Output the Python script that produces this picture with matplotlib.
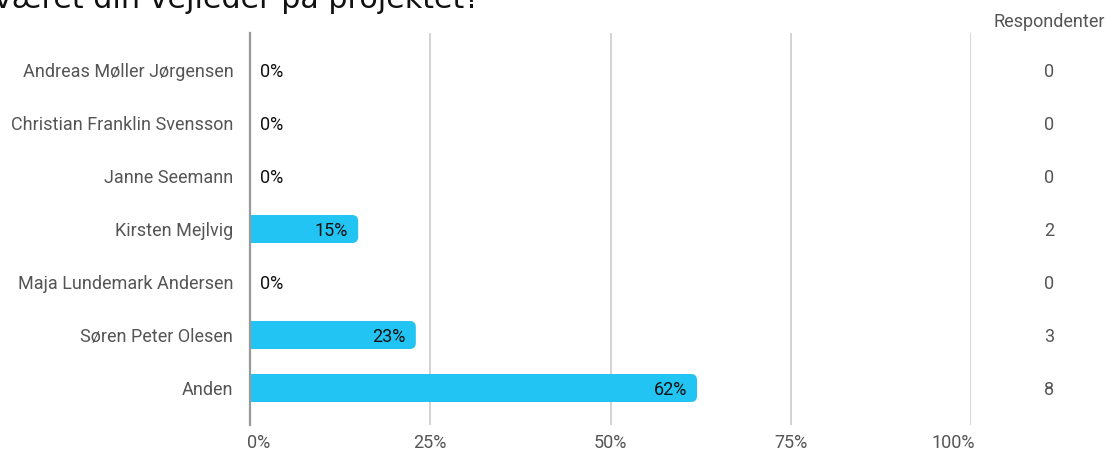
import matplotlib
matplotlib.use("Agg")
import matplotlib.pyplot as plt
import matplotlib.transforms as mtransforms
from matplotlib.patches import FancyBboxPatch, Rectangle

title = "været din vejleder på projektet?"
categories = ["Andreas Møller Jørgensen", "Christian Franklin Svensson", "Janne Seemann",
              "Kirsten Mejlvig", "Maja Lundemark Andersen", "Søren Peter Olesen", "Anden"]
counts = [0, 0, 0, 2, 0, 3, 8]
percents = [0, 0, 0, 15, 0, 23, 62]
xticks = [0, 25, 50, 75, 100]
xticklabels = ["0%", "25%", "50%", "75%", "100%"]
count_header = "Respondenter"

W, H = 1107, 450
fig = plt.figure(figsize=(W / 100, H / 100), dpi=100)
ax = fig.add_axes([250 / W, 1 - 425 / H, (971 - 250) / W, (425 - 33) / H])

bar_color = "#22C4F3"
FS = 13
ax.set_xlim(0, 100)
n = len(categories)
ax.set_ylim(n - 1 + 0.698, -0.698)

px_per_x = (971 - 250) / 100
px_per_y = 53
aspect = px_per_x / px_per_y
bar_h = 28 / px_per_y
r = 6 / px_per_x

for i, (p, c) in enumerate(zip(percents, counts)):
    if p > 0:
        patch = FancyBboxPatch((0, i - bar_h / 2), p, bar_h,
                               boxstyle=f"round,pad=0,rounding_size={r}",
                               mutation_aspect=aspect,
                               facecolor=bar_color, edgecolor="none", zorder=3)
        ax.add_patch(patch)
        ax.add_patch(Rectangle((0, i - bar_h / 2), min(p, 2 * r), bar_h,
                               facecolor=bar_color, edgecolor="none", zorder=3))
        ax.text(p - 10 / px_per_x, i, f"{p}%", ha="right", va="center_baseline",
                fontsize=FS, family="Roboto", color="#111111", zorder=4)
    else:
        ax.text(10 / px_per_x, i, f"{p}%", ha="left", va="center_baseline",
                fontsize=FS, family="Roboto", color="#111111", zorder=4)

ax.set_yticks(range(n))
ax.set_yticklabels(categories, family="Roboto", fontsize=FS, color="#555555")
ax.tick_params(axis="y", length=0, pad=12)
ax.set_xticks(xticks)
ax.set_xticklabels([])
ax.tick_params(axis="x", length=0)

base = mtransforms.blended_transform_factory(ax.transData, fig.transFigure)
for k, (xv, lab) in enumerate(zip(xticks, xticklabels)):
    if k == 0:
        ha, dx = "left", -3
    elif k == len(xticks) - 1:
        ha, dx = "right", 4
    else:
        ha, dx = "center", 0
    tr = mtransforms.offset_copy(base, fig=fig, x=dx, y=0, units="dots")
    fig.text(xv, 1 - 443 / H, lab, transform=tr, ha=ha, va="center",
             family="Roboto", fontsize=FS, color="#555555")

ax.grid(axis="x", color="#cccccc", linewidth=1.2, zorder=0)
for s in ["top", "right", "bottom"]:
    ax.spines[s].set_visible(False)
ax.spines["left"].set_color("#999999")
ax.spines["left"].set_linewidth(1.6)
ax.spines["left"].set_zorder(5)

for i, c in enumerate(counts):
    y_fig = 1 - (70 + 53 * i) / H
    fig.text(1049 / W, y_fig, str(c), ha="center", va="center_baseline",
             family="Roboto", fontsize=FS, color="#555555")
fig.text(1049 / W, 1 - 22 / H, count_header, ha="center", va="center",
         family="Roboto", fontsize=FS, color="#555555")

fig.text(-6 / W, 1 - 8 / H, title, ha="left", va="baseline",
         family="DejaVu Sans", fontsize=21.7, color="#111111")

fig.savefig("out.png", dpi=100)
